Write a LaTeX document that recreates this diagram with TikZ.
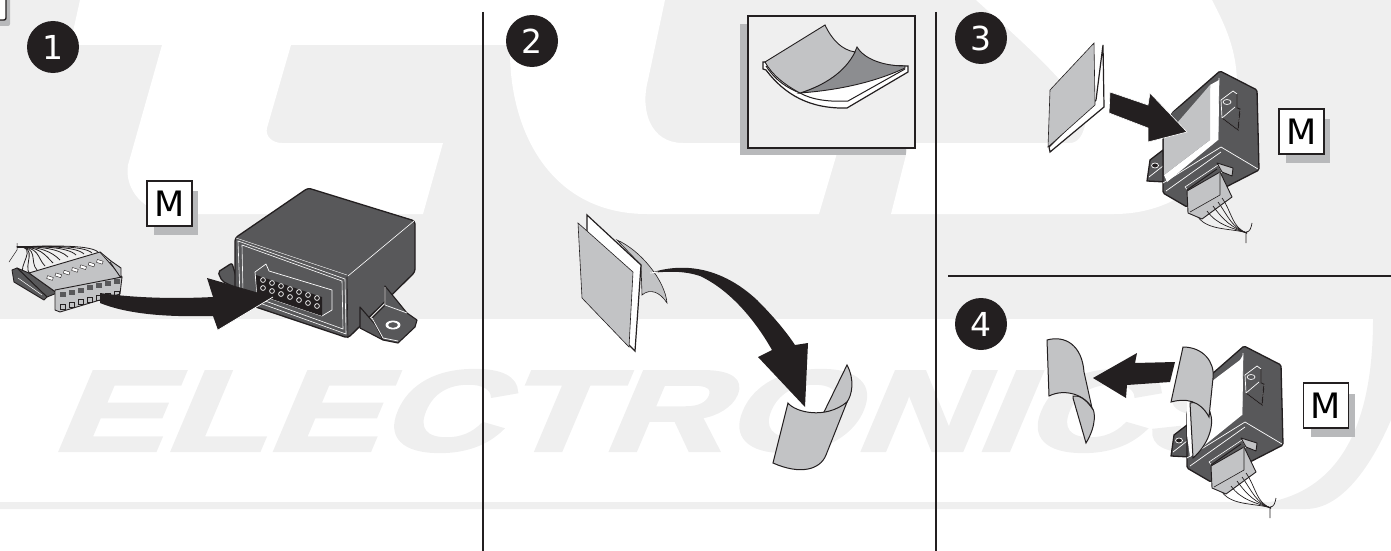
\documentclass[tikz,border=0pt]{standalone}
\usepackage{fontspec}
\setmainfont{DejaVu Sans}
\newfontfamily\markfont[FakeBold=2.5]{Liberation Sans}
\definecolor{inkblack}{RGB}{35, 31, 32}
\definecolor{bodygray}{RGB}{88, 88, 90}
\definecolor{sheetgray}{RGB}{194, 195, 197}
\definecolor{darksheet}{RGB}{140, 141, 144}
\definecolor{shadowgray}{RGB}{184, 185, 187}
\definecolor{markgray}{RGB}{239, 239, 239}
\tikzset{
  badge/.style={circle, fill=inkblack, text=white, minimum size=52pt, inner sep=0pt, font=\fontsize{33}{33}\selectfont},
  mbox/.style={draw=inkblack, fill=white, line width=1.3pt, minimum width=45pt, minimum height=45pt, inner sep=0pt, font=\fontsize{35}{35}\selectfont},
  divider/.style={draw=inkblack, line width=2.4pt},
  bigarrow/.style={fill=inkblack, draw=white, line width=0.6pt},
  sheet/.style={draw=inkblack, fill=sheetgray, line width=1pt},
  plate/.style={draw=inkblack, fill=white, line width=1.2pt},
  housing/.style={draw=inkblack, fill=bodygray, line width=1.3pt, line join=round},
  hiline/.style={draw=white, line width=0.7pt},
  plug/.style={draw=inkblack, fill=sheetgray, line width=0.9pt, line join=round},
  wire/.style={draw=inkblack, line width=0.7pt},
  ecuback/.pic={
    \draw[housing] (1150,160) -- (1163,150) -- (1166,182) -- (1147,181) -- cycle;
    \draw[hiline] (1149,177) -- (1163,166);
    \draw[hiline, fill=inkblack] (1155,165.5) ellipse (3.5pt and 2.5pt);
    \draw[housing, rounded corners=1.5pt] (1220,71) -- (1257,90) -- (1259,170) -- (1187,207) -- (1163,193) -- (1163,138) -- (1172,113) -- cycle;
    \draw[housing, draw=white, line width=0.7pt] (1233,91) -- (1237,94) -- (1237,108) -- (1240,109) -- (1238,130) -- (1222,118) -- (1221,100) -- cycle;
    \draw[inkblack, line width=1.1pt] (1237,94) -- (1237,108) -- (1240,109) -- (1238,130) -- (1222,118);
    \draw[hiline, fill=bodygray] (1227,102) ellipse (4pt and 2.5pt);
    \draw[hiline] (1222,118) -- (1235,107);
    \draw[hiline] (1163,183) -- (1221,147) -- (1258,169);
    \draw[hiline] (1166,191) -- (1221,152);
  },
  ecufront/.pic={
    \draw[housing, draw=white, line width=0.6pt] (1185,187) -- (1218,165) -- (1222,172) -- (1190,193) -- cycle;
    \draw[inkblack, line width=1pt] (1187,190) -- (1217,169);
    \draw[plug] (1217,163) -- (1233,168) -- (1232,176) -- (1222,172) -- cycle;
    \draw[plug] (1187,191) -- (1220,172) -- (1232,197) -- (1202,219) -- (1188,213) -- cycle;
    \draw[plug, line width=0.6pt] (1220,172) -- (1220,195) -- (1190,212);
    \foreach \a/\b in {1198/217, 1207/211, 1213/206, 1218/202, 1222/198} {
      \draw[wire] (\a,\b) .. controls ({\a+10},{\b+14}) and (1232,228) .. (1247,233);
    }
    \draw[wire] (1246,243) -- (1246,232) .. controls (1250,232) and (1251,228) .. (1252,223);
  },
}

\begin{document}
\begin{tikzpicture}[x=1pt, y=-1pt]
  \useasboundingbox (0,0) rectangle (1391,551);

  % watermark
  \fill[markgray] (0,0) rectangle (1391,319);
  \fill[white] (80,0) -- (70,45) -- (162,45) -- (128,165) .. controls (124,190) and (145,214) .. (175,214) -- (423,214) -- (443,143) -- (282,143) .. controls (272,143) and (265,136) .. (267,128) -- (291,45) -- (510,45) .. controls (508,130) and (550,214) .. (647,214) -- (819,214) -- (840,143) -- (683,143) .. controls (650,143) and (640,110) .. (648,80) -- (665,0) -- cycle;
  \fill[white] (976,0) .. controls (1020,40) and (1090,100) .. (1085,125) .. controls (1083,135) and (1078,143) .. (1070,143) -- (909,143) -- (891,214) -- (1114,214) .. controls (1180,214) and (1237,170) .. (1237,85) .. controls (1237,50) and (1225,25) .. (1212,0) -- cycle;
  \node[text=markgray, font=\markfont\bfseries\fontsize{115}{115}\selectfont, xscale=1.46, xslant=.29, transform shape, inner sep=0pt] (wordmark) at (668,411) {ELECTRONICS};
  \fill[markgray] (0,502) -- (1270,502) .. controls (1330,490) and (1373,440) .. (1373,319) -- (1391,319) -- (1391,420) .. controls (1365,480) and (1335,509) .. (1306,509) -- (0,509) -- cycle;

  % corner of the cut off box
  \fill[shadowgray, rounded corners=2pt] (-5,-5) rectangle (10,26);
  \draw[line width=1.4pt, inkblack, fill=white, rounded corners=2pt] (-5,-5) rectangle (6,20);

  % dividers
  \coordinate (divatop) at (483,12);
  \coordinate (divabot) at (483,551);
  \coordinate (divbtop) at (936,12);
  \coordinate (divbbot) at (936,551);
  \coordinate (divcleft) at (948,276);
  \coordinate (divcright) at (1391,276);
  \draw[divider] (divatop) -- (divabot);
  \draw[divider] (divbtop) -- (divbbot);
  \draw[divider] (divcleft) -- (divcright);

  % numbers
  \node[badge] (numone) at (53,47) {1};
  \node[badge] (numtwo) at (532,41) {2};
  \node[badge] (numthree) at (981,38) {3};
  \node[badge] (numfour) at (981,324) {4};

  % M boxes
  \fill[shadowgray] (154,191) rectangle (198,235);
  \node[mbox] (mone) at (169.5,203.5) {M};
  \fill[shadowgray] (1286,119) rectangle (1330,163);
  \node[mbox] (mthree) at (1301.5,131.5) {M};
  \fill[shadowgray] (1311,394) rectangle (1355,437);
  \node[mbox] (mfour) at (1326,405.5) {M};

  % step 1 connector
  \draw[wire, line width=0.5pt] (17,243) -- (17,250) (9,262) -- (17,250);
  \foreach \a/\b in {24/275, 30/274, 37/270, 45/266, 53/263, 60/260, 68/257, 76/255, 84/254, 92/253, 98/252} {
    \draw[wire, line width=0.8pt] (\a,\b) .. controls ({\a-8},{\b-8}) and (40,246) .. (17,247);
  }
  \draw[plug, fill=bodygray] (17,268) -- (29,273) -- (57,293) -- (47,297) -- cycle;
  \draw[plug, fill=bodygray] (12,270) -- (17,268) -- (47,297) -- (44,300) -- (14,282) -- cycle;
  \draw[white, line width=0.5pt] (18,278) -- (42,295);
  \draw[plug] (29,273) -- (100,252) -- (122,277) -- (57,293) -- cycle;
  \draw[plug] (100,252) -- (111,261) -- (121,268) -- (121,278) -- (110,262);
  \draw[plug] (55,290) -- (122,277) -- (120,294) -- (60,312) -- (55,310) -- cycle;
  \foreach \i in {0,...,6} {
    \fill[white, draw=inkblack, line width=0.4pt, rotate around={-18:({50+8.3*\i},{278-2.7*\i})}] ({47+8.3*\i},{276.5-2.7*\i}) rectangle ({53+8.3*\i},{279.5-2.7*\i});
    \fill[bodygray] ({60+9*\i},{292-2.2*\i}) rectangle ({65.5+9*\i},{297-2.2*\i});
    \draw[inkblack, line width=0.5pt] ({60+9*\i},{304-2.2*\i}) rectangle ({65.5+9*\i},{309-2.2*\i});
  }

  % step 1 module
  \draw[housing, rounded corners=2pt] (218,272) -- (232,263) -- (240,290) -- (222,281) -- cycle;
  \draw[housing, rounded corners=3pt] (235,238) -- (308,188) -- (415,221) -- (415,272) -- (348,338) -- (235,300) -- cycle;
  \draw[inkblack, line width=0.6pt] (347,277) -- (348,338);
  \draw[hiline, line width=0.6pt] (238,241) -- (345,279) -- (346,334) -- (240,296) -- cycle;
  \draw[hiline, line width=0.6pt] (242,245) -- (342,281) -- (343,329) -- (243,293) -- cycle;
  \draw[hiline, line width=0.6pt] (348,276) -- (414,221);
  \draw[hiline, line width=0.4pt] (236,238) -- (347,275);
  \draw[housing, fill=bodygray, draw=white, line width=0.7pt] (255,272) -- (266,264) -- (269,271) -- (332,290) -- (332,310) -- (322,316) -- (257,294) -- cycle;
  \fill[inkblack] (256,275) -- (322,297) -- (322,316) -- (257,294) -- cycle;
  \foreach \i in {0,...,6} {
    \draw[white, line width=0.7pt] ({263+9*\i},{280+3*\i}) circle (2.4pt);
    \draw[white, line width=0.7pt] ({263+9*\i},{288+3*\i}) circle (2.4pt);
  }
  \draw[housing, line width=1.1pt] (360,307) -- (380,330) -- (383,340) -- (360,328) -- cycle;
  \draw[housing, line width=1.1pt] (385,286) -- (407,313) -- (417,320) -- (415,327) -- (398,343) -- (383,340) -- (372,318) -- (385,305) -- cycle;
  \draw[hiline] (385,287) -- (385,305) -- (407,313);
  \draw[hiline] (372,318) -- (383,338) -- (398,341);
  \draw[hiline, fill=white, line width=0.9pt] (393,325) ellipse (7pt and 4pt);
  \draw[bodygray, fill=bodygray] (393,325) ellipse (4.5pt and 2.5pt);
  \draw[bigarrow, draw=none] (100,293) .. controls (135,298) and (175,299) .. (213,297) -- (207,278) -- (273,297) -- (218,330) -- (213,316) .. controls (170,317) and (130,315) .. (100,303) -- cycle;
  \draw[hiline] (273,297) -- (218,330);

  % step 2 inset
  \fill[shadowgray] (740,24) rectangle (906,155);
  \draw[draw=inkblack, fill=markgray, line width=1.8pt] (748,16) rectangle (915,148);
  \draw[plate] (763,62) -- (763,69) -- (766,70) .. controls (785,95) and (810,109) .. (847,108) -- (908,72) -- (908,66) -- cycle;
  \draw[inkblack, line width=1pt] (766,66) .. controls (775,80) and (787,88) .. (800,93) .. controls (812,100) and (830,102) .. (848,101) -- (905,69);
  \draw[draw=inkblack, fill=darksheet, line width=0.9pt] (800,93) .. controls (825,85) and (848,70) .. (857,47) .. controls (865,60) and (885,66) .. (905,66) -- (905,68) .. controls (875,82) and (840,90) .. (800,93) -- cycle;
  \draw[sheet, line width=0.9pt] (765,62) -- (825,25) .. controls (832,40) and (842,50) .. (855,52) .. controls (845,72) and (825,85) .. (800,93) .. controls (785,85) and (772,75) .. (765,62) -- cycle;

  % step 2 sheets
  \draw[sheet, line width=0.6pt] (617,240) .. controls (640,250) and (665,280) .. (667,303) .. controls (660,292) and (650,288) .. (642,295) -- (641,265) -- cycle;
  \draw[plate] (587,215) -- (641,265) -- (635,351) -- (629,345) -- (587,300) -- cycle;
  \draw[sheet, line width=0.6pt] (578,223) -- (633,272) -- (629,347) -- (582,298) -- cycle;
  \draw[bigarrow, draw=none] (650,273) .. controls (690,260) and (727,272) .. (757,300) .. controls (772,315) and (785,330) .. (795,345) -- (808,343) -- (805,407) -- (758,357) -- (772,350) .. controls (755,320) and (730,290) .. (700,276) .. controls (685,271) and (670,271) .. (650,273) -- cycle;
  \draw[white, line width=1pt] (650,273) -- (658,272);
  \draw[sheet] (823,414) -- (847,365) .. controls (855,380) and (852,395) .. (847,402) .. controls (840,412) and (830,415) .. (823,414) -- cycle;
  \draw[sheet] (788,403) .. controls (795,412) and (825,420) .. (847,402) -- (826,455) .. controls (820,470) and (800,475) .. (773,463) -- cycle;

  % step 3
  \draw[plate] (1103,45) -- (1104,107) -- (1050,152) -- (1049,147) -- (1096,100) -- cycle;
  \draw[sheet, line width=0.6pt] (1094,43) -- (1095,105) -- (1048,147) -- (1050,90) -- cycle;
  \pic at (0,0) {ecuback};
  \fill[white] (1210,85) -- (1219,80) -- (1218,140) -- (1167,182) -- (1164,175) -- (1210,140) -- cycle;
  \fill[bodygray] (1172,113) -- (1210,85) -- (1210,88) -- (1164,138) -- cycle;
  \draw[hiline] (1219,78) -- (1218,140);
  \fill[sheetgray] (1210,85) -- (1210,140) -- (1164,175) -- (1164,138) -- cycle;
  \pic at (0,0) {ecufront};
  \draw[bigarrow] (1110,92) -- (1148,105) -- (1150,93) -- (1187,132) -- (1148,142) -- (1148,128) -- (1109,113) -- cycle;

  % step 4
  \draw[sheet] (1073,398) -- (1086,443) .. controls (1097,425) and (1095,410) .. (1092,408) .. controls (1085,398) and (1078,395) .. (1073,396) -- cycle;
  \draw[sheet] (1047,340) .. controls (1065,335) and (1082,345) .. (1084,372) -- (1092,408) .. controls (1085,395) and (1065,388) .. (1049,396) -- cycle;
  \draw[bigarrow, draw=none] (1175,362) -- (1135,363) -- (1137,353) -- (1093,378) -- (1126,398) -- (1127,385) -- (1170,382) -- cycle;
  \begin{scope}[shift={(24,275)}]
    \pic at (0,0) {ecuback};
    \fill[white] (1216,85) -- (1219,80) -- (1218,140) -- (1166,182) -- (1163,160) -- (1163,125) -- cycle;
    \draw[hiline] (1219,78) -- (1218,140);
    \pic at (0,0) {ecufront};
  \end{scope}
  \draw[sheet] (1190,403) -- (1193,458) .. controls (1208,445) and (1215,425) .. (1210,412) .. controls (1205,405) and (1198,401) .. (1190,403) -- cycle;
  \draw[sheet] (1183,347) .. controls (1203,347) and (1215,362) .. (1213,378) -- (1209,417) .. controls (1200,400) and (1185,398) .. (1171,402) -- cycle;
\end{tikzpicture}
\end{document}
